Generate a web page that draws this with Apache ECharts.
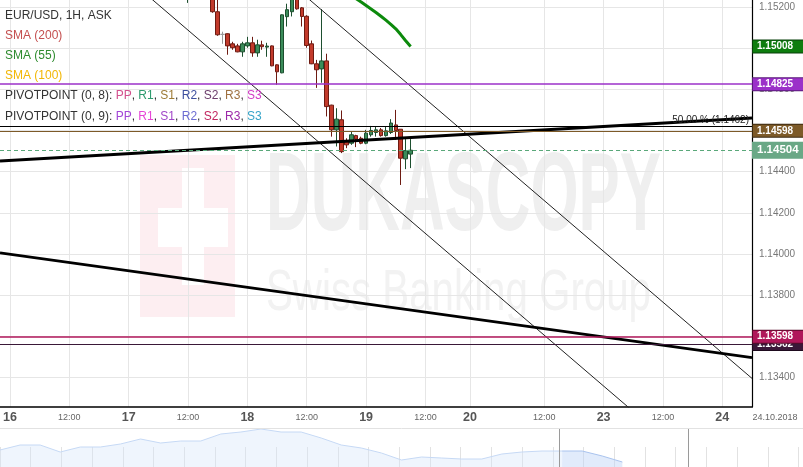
<!DOCTYPE html>
<html><head><meta charset="utf-8">
<script src="https://cdn.jsdelivr.net/npm/echarts@6/dist/echarts.min.js"></script>
<style>html,body{margin:0;padding:0;background:#fff}#c{width:803px;height:467px}</style>
</head><body><div id="c"></div>
<script>
// ---------- data ----------
const yMin = 1.13256, yMax = 1.15234;
const yTicks = [1.134, 1.136, 1.138, 1.140, 1.142, 1.144, 1.146, 1.148, 1.150, 1.152];
const hourStart = -2, hourEnd = 150;           // hours from 16 Oct 00:00 (weekend compressed)
const xTickHours  = [0, 12, 24, 36, 48, 60, 72, 84, 93, 108, 120, 132, 144];
const xTickLabels = ['16','12:00','17','12:00','18','12:00','19','12:00','20','12:00','23','12:00','24'];
const dateLabel = '24.10.2018';

const candleHour  = [36,41,42,43,44,45,46,47,48,49,50,51,52,53,54,55,56,57,58,59,60,61,62,63,64,65,66,67,68,69,70,71,72,73,74,75,76,77,78,79,80,81];
const candleOpen  = [1.15260,1.15260,1.15177,1.15067,1.15070,1.15021,1.15011,1.14982,1.15011,1.15026,1.14977,1.15016,1.15005,1.15011,1.14919,1.14880,1.15153,1.15177,1.15260,1.15196,1.15155,1.15021,1.14924,1.14899,1.14938,1.14723,1.14603,1.14652,1.14546,1.14538,1.14575,1.14562,1.14538,1.14579,1.14590,1.14603,1.14575,1.14590,1.14627,1.14606,1.14462,1.14485];
const candleClose = [1.15300,1.15177,1.15065,1.15067,1.15011,1.15002,1.14982,1.15021,1.15026,1.14977,1.15016,1.15007,1.15010,1.14914,1.14885,1.15162,1.15187,1.15260,1.15191,1.15154,1.15013,1.14924,1.14895,1.14938,1.14716,1.14603,1.14655,1.14497,1.14530,1.14579,1.14558,1.14538,1.14587,1.14600,1.14603,1.14575,1.14598,1.14636,1.14600,1.14465,1.14502,1.14504];
const candleLow   = [1.15220,1.15172,1.15060,1.15021,1.14968,1.14992,1.14980,1.14958,1.15002,1.14958,1.14958,1.14992,1.14958,1.14912,1.14822,1.14878,1.15105,1.15154,1.15187,1.15105,1.15002,1.14922,1.14807,1.14832,1.14668,1.14570,1.14522,1.14490,1.14514,1.14530,1.14519,1.14533,1.14533,1.14570,1.14570,1.14570,1.14570,1.14583,1.14554,1.14335,1.14412,1.14417];
const candleHigh  = [1.15320,1.15284,1.15240,1.15080,1.15072,1.15031,1.15021,1.15031,1.15055,1.15055,1.15041,1.15036,1.15026,1.15013,1.14921,1.15164,1.15216,1.15284,1.15290,1.15200,1.15160,1.15037,1.14943,1.15190,1.14973,1.14725,1.14708,1.14697,1.14562,1.14595,1.14579,1.14570,1.14603,1.14622,1.14619,1.14612,1.14619,1.14655,1.14700,1.14606,1.14558,1.14558];

const smaHour  = [70,71,72,73,74,75,76,77,78,79,80,81];
const smaValue = [1.15240,1.15224,1.15207,1.15190,1.15173,1.15155,1.15136,1.15116,1.15094,1.15066,1.15036,1.15008];

const channelA    = [[20, 1.15417], [130, 1.13152]];
const channelB    = [[50, 1.15453], [150, 1.13395]];
const trendUpper  = [[-2, 1.14452], [150, 1.14661]];
const trendLower  = [[-2, 1.14005], [150, 1.13496]];

const levelValues = [1.14825, 1.1462, 1.14598, 1.14504, 1.13562, 1.13598];
const fibText = '50.00 % (1.1462)';
const tagValues = [1.15008, 1.14825, 1.14598, 1.13562, 1.13598, 1.14504];

const navPrices = [1.1485,1.1510,1.1510,1.1475,1.1500,1.1500,1.1515,1.1540,1.1520,1.1530,1.1530,1.1565,1.1575,1.1590,1.1575,1.1575,1.1545,1.1510,1.1495,1.1470,1.1435,1.1450,1.1445,1.1440,1.1440,1.1465,1.1475,1.1480,1.1480,1.1480,1.1455,1.1425];
const navWindow = [27.85, 34.27];
const navSplit = 28;

// ---------- styles ----------
const FF = '"Liberation Sans", Arial, Helvetica, sans-serif';
const levelStyles = [
  {color:'#9b30c9', width:1.5, type:'solid'},
  {color:'#000000', width:1, type:'solid'},
  {color:'#7d5a28', width:1, type:'solid'},
  {color:'#5aa87a', width:1, type:[4,3]},
  {color:'#3a1838', width:1, type:'solid'},
  {color:'#b0175a', width:1.5, type:'solid'}
];
const tagBg     = ['#0e7d0e', '#9b30c9', '#7d5a28', '#3a1838', '#b0175a', '#6aa886'];
const tagBorder = ['#08400a', '#5a1a7a', '#3d2a10', '#1e0a1e', '#5a0a2a', '#6aa886'];

// ---------- build ----------
const cats = [];
for (let h = hourStart; h <= hourEnd; h++) cats.push(String(h));
const tickSet = new Set(xTickHours);
const isTick = (idx) => tickSet.has(idx + hourStart);
const toXY = arr => arr.map(p => [p[0] - hourStart, p[1]]);

const candleData = candleHour.map((h, i) => [h - hourStart, candleOpen[i], candleClose[i], candleLow[i], candleHigh[i]]);
const smaData = smaHour.map((h, i) => [h - hourStart, smaValue[i]]);

const tagRich = {};
tagValues.forEach((v, i) => {
  const big = i === 5;
  tagRich['t' + i] = {
    backgroundColor: tagBg[i], borderColor: tagBorder[i], borderWidth: 1,
    color: '#fff', fontWeight: 'bold', fontFamily: FF,
    fontSize: big ? 11.5 : 10, width: 44, height: big ? 13 : 10, lineHeight: big ? 13 : 10,
    padding: [1, 4, 1, 4], align: 'left'
  };
});

const markData = levelValues.map((v, i) => {
  const d = {yAxis: v, lineStyle: levelStyles[i], label: {show: false}};
  if (i === 1) d.label = {show: true, formatter: fibText, position: 'insideEndTop', color: '#222', fontSize: 10, fontFamily: FF, distance: [3, 1]};
  return d;
});

// watermark text widths
const mctx = document.createElement('canvas').getContext('2d');
mctx.font = 'bold 112px ' + FF;
const dukW = mctx.measureText('DUKASCOPY').width;
mctx.font = '58px ' + FF;
const swissW = mctx.measureText('Swiss Banking Group').width;

const legendRows = [
  {y: 16, text: '{d|EUR/USD, 1H, ASK}'},
  {y: 36, text: '{a|SMA (200)}'},
  {y: 56, text: '{b|SMA (55)}'},
  {y: 76, text: '{c|SMA (100)}'},
  {y: 96, text: '{d|PIVOTPOINT (0, 8): }{p1|PP}{d|, }{p2|R1}{d|, }{p3|S1}{d|, }{p4|R2}{d|, }{p5|S2}{d|, }{p6|R3}{d|, }{p7|S3}'},
  {y: 117, text: '{d|PIVOTPOINT (0, 9): }{q1|PP}{d|, }{q2|R1}{d|, }{q3|S1}{d|, }{q4|R2}{d|, }{q5|S2}{d|, }{q6|R3}{d|, }{q7|S3}'}
];
const lc = (c) => ({fill: c, font: '12px ' + FF, color: c, fontSize: 12, fontFamily: FF});
const legendRich = {
  d: lc('#333'), a: lc('#c44f4f'), b: lc('#2e8b2e'), c: lc('#f2b705'),
  p1: lc('#d3508d'), p2: lc('#2d9a6e'), p3: lc('#9c7a35'), p4: lc('#3d4f9e'), p5: lc('#6b3d6b'), p6: lc('#9e7040'), p7: lc('#d23cc6'),
  q1: lc('#a346d6'), q2: lc('#e645d6'), q3: lc('#a046c8'), q4: lc('#6c6cd2'), q5: lc('#c2255f'), q6: lc('#9b28a8'), q7: lc('#36a4c8')
};

const graphics = [
  {type:'rect', z:-10, shape:{x:140, y:155, width:95, height:162}, style:{fill:'#fdeef1'}, silent:true},
  {type:'rect', z:-9, shape:{x:182, y:168, width:22, height:117}, style:{fill:'#ffffff'}, silent:true},
  {type:'rect', z:-9, shape:{x:158, y:208, width:70, height:39}, style:{fill:'#ffffff'}, silent:true},
  {type:'text', z:-9, x:266, y:199, scaleX: 395 / dukW, originX:0, silent:true,
    style:{text:'DUKASCOPY', font:'bold 112px ' + FF, fill:'#efefef', align:'left', verticalAlign:'middle', textAlign:'left', textVerticalAlign:'middle'}},
  {type:'text', z:-9, x:266, y:294, scaleX: 385 / swissW, originX:0, silent:true,
    style:{text:'Swiss Banking Group', font:'58px ' + FF, fill:'#f2f2f2', align:'left', verticalAlign:'middle', textAlign:'left', textVerticalAlign:'middle'}},
  {type:'line', z:50, shape:{x1:0, y1:428.5, x2:803, y2:428.5}, style:{stroke:'#e2e2e2', lineWidth:1}, silent:true},
  {type:'text', z:50, x:775, y:418, silent:true,
    style:{text:dateLabel, font:'9px ' + FF, fill:'#666', align:'center', verticalAlign:'middle', textAlign:'center', textVerticalAlign:'middle'}}
];
legendRows.forEach(r => graphics.push({type:'text', z:100, x:5, y:r.y, silent:true,
  style:{text:r.text, rich:legendRich, font:'12px ' + FF, fill:'#333', align:'left', verticalAlign:'middle', textAlign:'left', textVerticalAlign:'middle'}}));

const chart = echarts.init(document.getElementById('c'));
chart.setOption({
  animation: false,
  backgroundColor: '#fff',
  graphic: graphics,
  grid: [
    {left:0, right:51, top:0, bottom:60, containLabel:false, outerBoundsMode:'none'},
    {left:0, right:0, top:428, height:39, containLabel:false, outerBoundsMode:'none'}
  ],
  xAxis: [
    {type:'category', gridIndex:0, data:cats, boundaryGap:false,
      axisLine:{show:true, lineStyle:{color:'#000', width:1.5}},
      axisTick:{show:false},
      splitLine:{show:true, interval:(i)=>isTick(i), lineStyle:{color:'#e6e6e6', width:1}},
      axisLabel:{show:true, interval:(i)=>isTick(i), margin:11, verticalAlign:'middle',
        formatter:(v)=>{ const k = xTickHours.indexOf(+v); const t = xTickLabels[k]; return t.length > 2 ? '{s|' + t + '}' : '{b|' + t + '}'; },
        rich:{ b:{fontSize:12.5, fontWeight:'bold', color:'#555', fontFamily:FF}, s:{fontSize:9, color:'#666', fontFamily:FF} }}},
    {type:'value', gridIndex:1, min:0, max:40, interval:1.53,
      axisLine:{show:false}, axisLabel:{show:false}, splitLine:{show:false},
      axisTick:{show:true, inside:true, length:20, lineStyle:{color:'#e2e2e2'}}}
  ],
  yAxis: [
    {type:'value', gridIndex:0, position:'right', min:yMin, max:yMax, scale:true,
      axisLine:{show:true, lineStyle:{color:'#000', width:1.2}},
      axisTick:{show:false, customValues:yTicks},
      splitLine:{show:true, lineStyle:{color:'#e6e6e6', width:1}},
      axisLabel:{customValues:yTicks, formatter:(v)=>v.toFixed(5), color:'#777', fontSize:10, fontFamily:FF, margin:7}},
    {type:'value', gridIndex:0, position:'right', min:yMin, max:yMax, scale:true,
      axisLine:{show:false}, splitLine:{show:false},
      axisTick:{show:false, customValues:tagValues},
      axisLabel:{customValues:tagValues, margin:1, rich:tagRich,
        formatter:(v)=>{ let k = 0; tagValues.forEach((t, i)=>{ if (Math.abs(t - v) < 1e-7) k = i; }); return '{t' + k + '|' + v.toFixed(5) + '}'; }}},
    {type:'value', gridIndex:1, min:1.1400, max:1.1595, show:false}
  ],
  series: [
    {type:'candlestick', xAxisIndex:0, yAxisIndex:0, data:candleData, encode:{x:0, y:[1,2,3,4]},
      barWidth:4, z:3,
      itemStyle:{color:'#3b8c5a', color0:'#c23a2b', borderColor:'#1d4f2f', borderColor0:'#6e1b12', borderColorDoji:'#999999', borderWidth:1}},
    {type:'line', xAxisIndex:0, yAxisIndex:0, data:smaData, showSymbol:false, lineStyle:{color:'#0c8a0c', width:3}, z:4,
      markLine:{silent:true, precision:6, symbol:['none','none'], animation:false, data:markData}},
    {type:'line', xAxisIndex:0, yAxisIndex:0, data:toXY(channelA), showSymbol:false, lineStyle:{color:'#222', width:1}, z:4},
    {type:'line', xAxisIndex:0, yAxisIndex:0, data:toXY(channelB), showSymbol:false, lineStyle:{color:'#222', width:1}, z:4},
    {type:'line', xAxisIndex:0, yAxisIndex:0, data:toXY(trendUpper), showSymbol:false, lineStyle:{color:'#000', width:3}, z:4},
    {type:'line', xAxisIndex:0, yAxisIndex:0, data:toXY(trendLower), showSymbol:false, lineStyle:{color:'#000', width:2.6}, z:4},
    {type:'line', xAxisIndex:1, yAxisIndex:2, data:navPrices.slice(0, navSplit + 1).map((v,i)=>[i, v]), showSymbol:false,
      lineStyle:{color:'#c6d9f5', width:1}, areaStyle:{color:'rgba(214,229,250,0.55)', origin:'start'},
      markLine:{silent:true, precision:4, symbol:['none','none'], label:{show:false}, lineStyle:{color:'#9a9a9a', width:1, type:'solid'},
        data:navWindow.map(x=>({xAxis:x}))}},
    {type:'line', xAxisIndex:1, yAxisIndex:2, data:navPrices.slice(navSplit).map((v,i)=>[i + navSplit, v]), showSymbol:false,
      lineStyle:{color:'#a9c3ee', width:1}, areaStyle:{color:'rgba(190,212,247,0.65)', origin:'start'}}
  ]
});
</script></body></html>
